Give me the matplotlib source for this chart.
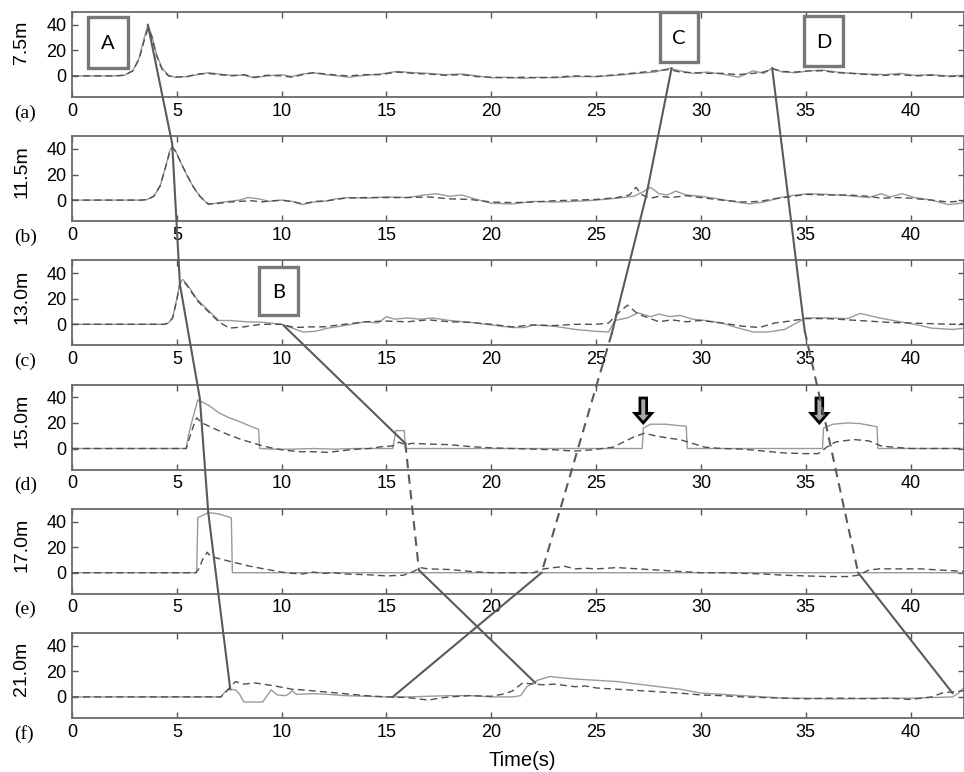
import matplotlib
matplotlib.use("Agg")
import matplotlib.pyplot as plt
from matplotlib.lines import Line2D
from matplotlib.patches import Rectangle, FancyArrow

# ---------------- data: (time [s], value) ----------------
depth_labels = ["7.5m", "11.5m", "13.0m", "15.0m", "17.0m", "21.0m"]
panel_tags = ["(a)", "(b)", "(c)", "(d)", "(e)", "(f)"]
x_ticks = [0, 5, 10, 15, 20, 25, 30, 35, 40]
y_ticks = [0, 20, 40]

a_solid = [(0, 0), (2.0, 0), (2.5, 0.5), (2.9, 4), (3.2, 14), (3.45, 30), (3.62, 40), (3.8, 32),
           (4.05, 16), (4.3, 6), (4.6, 0.5), (4.9, -1), (5.5, -0.5), (6.0, 1), (6.5, 2.5), (7.0, 1.5),
           (7.6, 0.5), (8.2, 0.5), (8.7, -1.5), (9.3, 0), (10.0, 1), (10.5, -0.5), (11.0, 1.5),
           (11.5, 2.5), (12.1, 1), (12.7, 0), (13.2, -1), (14.0, 0.5), (14.7, 1.5), (15.5, 3.5),
           (16.3, 2.5), (17.0, 2), (17.8, 1), (18.6, 1.5), (19.3, 0), (20.0, -1.5), (20.8, -1),
           (21.5, -2), (22.3, -1), (23.0, -1.5), (24.0, -0.5), (25.0, -0.5), (26.0, 0.5), (27.0, 2),
           (27.8, 3), (28.5, 6), (29.0, 4), (29.6, 2), (30.3, 3), (31.0, 1.5), (31.8, -1), (32.5, 4),
           (33.0, 2), (33.4, 6), (33.9, 3), (34.5, 2.5), (35.2, 4), (35.8, 4.5), (36.5, 3), (37.2, 2),
           (38.0, 1.5), (38.8, 1), (39.5, 2), (40.2, 0.5), (41.0, 1), (41.8, 0), (42.6, 0.5)]
a_dashed = [(0, 0), (2.0, 0), (2.5, 0.5), (2.9, 4), (3.2, 13), (3.45, 28), (3.62, 37), (3.8, 31),
            (4.05, 15), (4.3, 5), (4.6, 0), (4.9, -1), (5.5, -0.5), (6.0, 1.5), (6.5, 2), (7.0, 1),
            (7.6, 0), (8.2, 1), (8.7, -1), (9.3, 0.5), (10.0, 0), (10.5, -1), (11.0, 1), (11.5, 2.5),
            (12.1, 1.5), (12.7, 0.5), (13.2, 0), (14.0, 1), (14.7, 1), (15.5, 3), (16.3, 2),
            (17.0, 1.5), (17.8, 0.5), (18.6, 1), (19.3, -0.5), (20.0, -1), (20.8, -1.5), (21.5, -1),
            (22.3, -1.5), (23.0, -1), (24.0, 0), (25.0, -0.5), (26.0, 1), (27.0, 2.5), (27.8, 4),
            (28.5, 5), (29.0, 3), (29.6, 2.5), (30.3, 2), (31.0, 2), (31.8, 1), (32.5, 2), (33.0, 3),
            (33.4, 5.5), (33.9, 3.5), (34.5, 3), (35.2, 4), (35.8, 4), (36.5, 2.5), (37.2, 2),
            (38.0, 1), (38.8, 0.5), (39.5, 1), (40.2, 0), (41.0, 0.5), (41.8, -0.5), (42.6, 0)]

b_solid = [(0, 0), (3.3, 0), (3.6, 0.5), (3.9, 3), (4.2, 11), (4.45, 25), (4.65, 38), (4.78, 42),
           (4.95, 38), (5.2, 29), (5.5, 19), (5.8, 10), (6.1, 3), (6.5, -3.5), (7.0, -2), (7.5, -1),
           (8.0, 0), (8.4, 2), (8.9, 1), (9.4, -1), (10.0, 0), (10.5, -1), (11.0, -3.5), (11.5, -1.5),
           (12.0, -1), (12.6, 1), (13.2, 2), (14.0, 1.5), (15.0, 2.5), (16.0, 2), (16.8, 4),
           (17.4, 5), (18.0, 3), (18.6, 4), (19.2, 1), (20.0, -2.5), (21.0, -3), (22.0, -1),
           (23.0, -1.5), (24.0, -1), (25.0, 0), (26.0, 1.5), (26.8, 3), (27.3, 7), (27.6, 10),
           (28.0, 5), (28.4, 4), (28.8, 7), (29.3, 4), (30.0, 3), (30.8, 1), (31.5, -1), (32.3, -3),
           (33.0, -1.5), (33.8, 2), (34.5, 4), (35.2, 5), (36.0, 4.5), (37.0, 3.5), (38.0, 2),
           (38.6, 5), (39.0, 2.5), (39.6, 5), (40.2, 2), (41.0, 0), (41.8, -3.5), (42.6, -2)]
b_dashed = [(0, 0), (3.3, 0), (3.6, 0.5), (3.9, 3), (4.2, 11), (4.45, 25), (4.65, 37), (4.78, 41),
            (4.95, 38), (5.2, 29), (5.5, 19), (5.8, 10), (6.1, 3), (6.5, -3), (7.0, -2.5),
            (7.5, -1.5), (8.0, -1), (8.6, -0.5), (9.0, -1.5), (9.6, -0.5), (10.0, 0), (10.6, -1.5),
            (11.0, -3), (11.6, -1), (12.2, -0.5), (13.0, 1.5), (14.0, 2), (15.0, 2), (16.0, 2),
            (17.0, 2.5), (18.0, 1), (19.0, 0.5), (20.0, -1.5), (21.0, -2), (22.0, -1.5), (23.0, -0.5),
            (24.0, 0), (25.0, 0.5), (26.0, 2), (26.6, 4), (26.9, 10), (27.2, 4), (27.6, 1.5),
            (28.0, 3), (28.6, 2), (29.3, 3.5), (30.0, 2), (31.0, 0), (32.0, -1.5), (32.8, -1),
            (33.5, 1), (34.2, 2.5), (35.0, 4.5), (36.0, 4), (37.0, 4), (38.0, 3), (38.6, 1.5),
            (39.4, 2), (40.0, 1.5), (41.0, 0), (41.8, -1.5), (42.6, -0.5)]

c_solid = [(0, 0), (4.4, 0), (4.6, 1), (4.8, 5), (5.0, 20), (5.15, 33), (5.3, 35), (5.5, 31),
           (6.0, 19), (6.5, 11), (7.0, 3), (7.5, 3), (8.3, 2), (9.2, 1.5), (10.0, 0), (10.6, -3.5),
           (11.0, -6), (11.6, -5.5), (12.2, -3), (13.0, -1), (14.0, 2), (14.6, 1), (15.0, 6),
           (15.4, 4), (16.0, 5), (16.6, 4), (17.2, 5), (18.0, 3), (19.0, 1.5), (20.0, -0.5),
           (21.0, -2.5), (21.6, -2.5), (22.0, -0.5), (23.0, -1.5), (24.0, -4), (25.0, -5.5),
           (25.6, -6), (25.9, 3), (26.5, 5), (27.0, 9), (27.6, 6), (28.0, 8), (28.5, 6), (29.0, 7),
           (29.6, 4), (30.2, 3), (31.0, 1), (31.8, -3), (32.5, -6), (33.2, -6), (34.0, -4),
           (35.0, 5), (36.0, 5), (37.0, 4.5), (37.6, 8.5), (38.0, 7), (38.5, 5), (39.5, 2),
           (40.2, 0), (41.0, -3), (42.0, -4), (42.6, -3)]
c_dashed = [(0, 0), (4.4, 0), (4.6, 1), (4.8, 5), (5.0, 19), (5.15, 32), (5.3, 34), (5.5, 30),
            (6.0, 18), (6.5, 10), (7.0, 2), (7.5, -3), (8.2, -2), (9.0, 0), (10.0, 0), (10.6, -2.5),
            (11.4, -2), (12.0, -2), (13.0, 0), (14.0, 2), (15.0, 2.5), (16.0, 2), (17.0, 3.5),
            (18.0, 2), (19.0, 1.5), (20.0, 0), (21.0, -2), (22.0, -0.5), (23.0, -1), (24.0, 0),
            (25.0, 0), (25.6, 1), (26.0, 8), (26.5, 15), (27.0, 8), (27.5, 5), (28.0, 2),
            (28.6, 3.5), (29.3, 2), (30.0, 3), (31.0, 1), (32.0, -1.5), (32.8, -2.5), (33.5, 1),
            (34.0, 2), (35.0, 4.5), (36.0, 4.5), (37.0, 3.5), (38.0, 2.5), (39.0, 1.5), (40.0, 1),
            (41.0, 0.5), (42.0, 0), (42.6, 0.5)]

d_solid = [(0, 0), (5.45, 0), (5.55, 10), (5.7, 20), (6.0, 38), (6.5, 34), (7.0, 28), (7.5, 24),
           (8.0, 21), (8.5, 17.5), (8.9, 15), (8.95, 0), (9.6, -0.5), (10.5, -0.5), (11.5, 0),
           (12.5, -0.5), (13.5, 0), (14.5, 0), (15.3, 0), (15.45, 14), (15.85, 14), (15.9, 0),
           (27.2, 0), (27.25, 16), (27.6, 19), (28.3, 19), (28.9, 18), (29.3, 17.5), (29.35, 0),
           (35.8, 0), (35.85, 16), (36.3, 19), (37.0, 20), (37.6, 19.5), (38.4, 17), (38.45, 0),
           (42.6, 0)]
d_dashed = [(0, 0), (5.45, 0), (5.6, 8), (5.8, 18), (5.95, 24), (6.2, 20), (6.6, 17), (7.0, 14),
            (7.5, 10.5), (8.0, 7.5), (8.5, 5), (9.0, 2.5), (9.5, 0.5), (10.0, -1), (10.8, -2.5),
            (11.5, -2.5), (12.2, -3), (13.0, -1.5), (13.6, -0.5), (14.2, 0), (14.8, 1.5), (15.3, 2),
            (15.6, 5), (15.9, 3), (16.2, 4), (17.0, 3.5), (18.0, 3), (19.0, 1.5), (20.0, 0.5),
            (21.0, 0), (22.0, -0.5), (23.0, -1), (24.0, -2), (24.8, -1), (25.3, 0), (25.8, 1),
            (26.3, 5), (26.8, 9), (27.3, 12), (27.8, 10), (28.5, 8), (29.0, 7), (29.6, 4), (30.2, 1),
            (31.0, 0), (32.0, -0.5), (33.0, -2), (34.0, -3.5), (35.0, -4), (35.6, -4), (36.0, 1),
            (36.4, 5), (36.8, 6), (37.3, 7), (38.0, 6), (38.6, 2), (39.2, 1), (40.0, 0), (41.0, 0),
            (42.6, 0)]

e_solid = [(0, 0), (5.95, 0), (6.0, 43), (6.5, 47), (7.0, 46), (7.6, 43), (7.65, 0), (42.6, 0)]
e_dashed = [(0, 0), (5.9, 0), (6.05, 3), (6.25, 11), (6.45, 16), (6.6, 13), (6.9, 11.5), (7.5, 9),
            (8.0, 7), (8.5, 5), (9.0, 3.5), (9.5, 2), (10.0, 0.5), (10.5, -0.5), (11.0, -1),
            (11.5, 0.5), (12.0, -0.5), (12.5, 0), (13.0, -1), (14.0, -1.5), (15.0, -2.5), (15.8, -2),
            (16.3, 1), (16.6, 4), (17.0, 3), (18.0, 2.5), (19.0, 1), (20.0, 0), (21.0, 0), (22.0, 0),
            (22.5, 3), (23.0, 4), (23.5, 5), (24.0, 3), (24.5, 3.5), (25.0, 3), (26.0, 4), (27.0, 3),
            (28.0, 2), (29.0, 1), (30.0, 0), (31.0, 0), (32.0, -0.5), (33.0, -1), (34.0, -2),
            (35.0, -2.5), (36.0, -3), (37.0, -3), (37.5, -2), (38.0, 2), (38.5, 3), (39.5, 3),
            (40.5, 3), (41.5, 2), (42.6, 1)]

f_solid = [(0, 0), (7.1, 0), (7.3, 4), (7.5, 6), (7.8, 5.5), (8.0, 2), (8.2, -4), (8.7, -4),
           (9.1, -4), (9.35, 2), (9.5, 5.5), (9.8, 1.5), (10.2, 1), (10.4, 3), (10.5, 5), (10.7, 2),
           (11.5, 2.5), (12.2, 2), (13.0, 1), (14.0, 0.5), (15.0, 0), (16.0, 0), (17.0, 0.5),
           (18.0, 1), (19.0, 1), (20.0, 0), (21.0, 0), (21.4, 1), (21.7, 8), (22.2, 13), (22.8, 16),
           (23.3, 15), (24.0, 14), (25.0, 13), (26.0, 12), (27.0, 10), (28.0, 8), (29.0, 6),
           (30.0, 3), (31.0, 2), (32.0, 1), (33.0, 0), (34.0, -1), (35.0, -1), (36.0, -1.5),
           (37.0, -1.5), (38.0, -1), (39.0, -1), (40.0, -1), (41.0, -0.5), (42.0, 0), (42.3, 3),
           (42.6, 8)]
f_dashed = [(0, 0), (7.1, 0), (7.3, 3), (7.5, 7), (7.8, 12), (8.2, 10), (8.7, 11), (9.5, 9),
            (10.2, 7), (10.5, 6), (11.0, 5.5), (12.0, 4), (13.0, 2.5), (14.0, 1), (15.0, 0),
            (16.0, -0.5), (16.5, -1.5), (17.0, -2.5), (17.5, -1), (18.0, 0), (19.0, 1), (20.0, 0.5),
            (20.5, 2), (21.0, 4.5), (21.5, 11), (22.0, 10), (22.5, 9.5), (23.0, 10), (23.5, 9),
            (24.0, 8), (24.5, 8.5), (25.0, 7), (26.0, 6), (27.0, 5), (28.0, 4), (29.0, 3),
            (30.0, 1.5), (31.0, 1), (32.0, 0), (33.0, -0.5), (34.0, -1), (35.0, -1.5), (36.0, -1),
            (37.0, -1), (38.0, -1.5), (39.0, -1), (40.0, -2), (40.5, -1), (41.0, 0), (41.5, 3),
            (42.0, 4), (42.6, 5)]

solid_series = [a_solid, b_solid, c_solid, d_solid, e_solid, f_solid]
dashed_series = [a_dashed, b_dashed, c_dashed, d_dashed, e_dashed, f_dashed]

# Tracking lines across depths: (panel index, time, value)
track_A = [[(0, 3.62, 40), (1, 4.78, 44), (2, 5.15, 31), (3, 6.1, 39), (4, 6.5, 47), (5, 7.55, 6)]]
track_A_style = ["-"]
track_B = [[(2, 10.1, -1), (3, 15.9, 4)], [(3, 15.9, 4), (4, 16.55, 2)], [(4, 16.55, 2), (5, 22.1, 11)]]
track_B_style = ["-", "--", "-"]
track_C = [[(0, 28.6, 6), (1, 27.4, 4), (2, 25.75, -7)], [(2, 25.75, -7), (4, 22.4, 0)],
           [(4, 22.4, 0), (5, 15.3, 0)]]
track_C_style = ["-", "--", "-"]
track_D = [[(0, 33.4, 6), (2, 34.95, -5)], [(2, 34.95, -5), (3, 36.0, 16), (4, 37.5, 0)],
           [(4, 37.5, 0), (5, 42.0, 3)]]
track_D_style = ["-", "--", "-"]

# ---------------- figure layout ----------------
W, H = 964, 772
fig = plt.figure(figsize=(W / 100, H / 100), dpi=100)
fig.patch.set_facecolor("white")

LEFT, RIGHT = 72, 964
AX_H = 85
tops = [12 + i * 124.2 for i in range(6)]

SOLID_C = "#9a9a9a"
DASH_C = "#4f4f4f"
SPINE_C = "#6a6a6a"
TRACK_C = "#5a5a5a"
TICK_FONT = "Liberation Sans"

axes = []
for i in range(6):
    top = tops[i]
    ax = fig.add_axes([LEFT / W, 1 - (top + AX_H) / H, (RIGHT - LEFT) / W, AX_H / H])
    ts, vs = zip(*solid_series[i])
    td, vd = zip(*dashed_series[i])
    ax.plot(ts, vs, color=SOLID_C, lw=1.0, zorder=2)
    ax.plot(td, vd, color=DASH_C, lw=1.0, dashes=(5, 3), zorder=3)
    ax.set_xlim(0, 42.55)
    ax.set_ylim(-16.5, 50)
    ax.set_xticks(x_ticks)
    ax.set_yticks(y_ticks)
    ax.tick_params(direction="in", top=True, right=True, length=4, width=1,
                   color="#555555", labelsize=13, pad=4)
    for lab in ax.get_xticklabels() + ax.get_yticklabels():
        lab.set_fontfamily(TICK_FONT)
    for s in ax.spines.values():
        s.set_color(SPINE_C)
        s.set_linewidth(1.3)
    fig.text(21.5 / W, 1 - (top + 9) / H, depth_labels[i], rotation=90, ha="center", va="top",
             fontsize=14, family=TICK_FONT)
    fig.text(14 / W, 1 - (top + AX_H + 16) / H, panel_tags[i], ha="left", va="center",
             fontsize=14, family="Liberation Serif")
    axes.append(ax)

fig.text(522 / W, 1 - 761 / H, "Time(s)", ha="center", va="center", fontsize=14.5, family=TICK_FONT)

# Downward arrows marking onsets in panel (d)
for tx in (27.25, 35.65):
    axes[3].add_patch(FancyArrow(tx, 39.5, 0, -19.5, width=0.32, head_width=0.8,
                                 head_length=7.5, length_includes_head=True,
                                 facecolor="#a8a8a8", edgecolor="black", lw=2.0, zorder=5,
                                 clip_on=False))

# Tracking lines drawn in figure coordinates from each panel's data coordinates
fig.canvas.draw()
inv = fig.transFigure.inverted()


def to_fig(p):
    idx, t, v = p
    return inv.transform(axes[idx].transData.transform((t, v)))


for segs, styles in ((track_A, track_A_style), (track_B, track_B_style),
                     (track_C, track_C_style), (track_D, track_D_style)):
    for seg, st in zip(segs, styles):
        pts = [to_fig(p) for p in seg]
        xs = [p[0] for p in pts]
        ys = [p[1] for p in pts]
        ln = Line2D(xs, ys, transform=fig.transFigure, color=TRACK_C, lw=1.5, zorder=6)
        if st == "--":
            ln.set_dashes((4.5, 3))
        fig.add_artist(ln)

# Event label boxes (pixel extents)
boxes = [("A", 88, 17, 128, 68), ("B", 259, 267, 298, 315),
         ("C", 660, 12, 698, 62), ("D", 804, 16, 843, 66)]
for letter, x0, y0, x1, y1 in boxes:
    fig.add_artist(Rectangle((x0 / W, 1 - y1 / H), (x1 - x0) / W, (y1 - y0) / H,
                             transform=fig.transFigure, facecolor="white",
                             edgecolor="#777777", lw=2.4, zorder=7))
    fig.text((x0 + x1) / 2 / W, 1 - ((y0 + y1) / 2 + 1) / H, letter, ha="center", va="center",
             fontsize=14.5, family="Lato", zorder=8)

fig.savefig("out.png", dpi=100, facecolor="white")
